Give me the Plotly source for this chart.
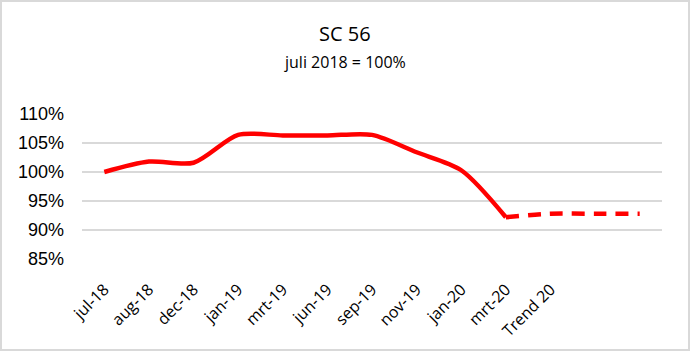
import plotly.graph_objects as go

categories = ["jul-18", "aug-18", "dec-18", "jan-19", "mrt-19", "jun-19",
              "sep-19", "nov-19", "jan-20", "mrt-20", "Trend 20", "", ""]
actual = [100.0, 101.8, 101.6, 106.4, 106.3, 106.3, 106.4, 103.4, 100.3, 92.2]
trend = [92.2, 92.8, 92.8, 92.8]
y_ticks = [85, 90, 95, 100, 105, 110]
y_tick_labels = ["85%", "90%", "95%", "100%", "105%", "110%"]

W, H = 690, 351
L, R, T, B = 82, 28, 114, 92
pw, ph = W - L - R, H - T - B

x_all = list(range(len(categories)))
x_actual = x_all[:len(actual)]
x_trend = x_all[len(actual) - 1:len(actual) - 1 + len(trend)]

fig = go.Figure()
fig.add_trace(go.Scatter(x=x_actual, y=actual, mode="lines",
                         line=dict(color="#FF0000", width=4.5, shape="spline", smoothing=0.8),
                         showlegend=False, hoverinfo="skip"))
fig.add_trace(go.Scatter(x=x_trend, y=trend, mode="lines",
                         line=dict(color="#FF0000", width=4.5, shape="spline", smoothing=0.8,
                                   dash="13px,9px"),
                         showlegend=False, hoverinfo="skip"))

def px_to_paper_x(px):
    return (px - L) / pw

def px_to_paper_y(py):
    return (H - B - py) / ph

fig.update_layout(
    width=W, height=H,
    margin=dict(l=L, r=R, t=T, b=B, autoexpand=False),
    paper_bgcolor="white", plot_bgcolor="white",
    xaxis=dict(range=[-0.5, len(categories) - 0.5], tickmode="array",
               tickvals=x_all, ticktext=categories, tickangle=-45,
               showgrid=False, zeroline=False, showline=False, ticks="",
               ticklabelstandoff=17, automargin=False,
               tickfont=dict(family="Open Sans", size=16, color="#000000")),
    yaxis=dict(range=[85, 110], tickmode="array", tickvals=y_ticks, ticktext=y_tick_labels,
               showgrid=True, gridcolor="#D9D9D9", gridwidth=1.5,
               zeroline=False, showline=False, ticks="",
               ticklabelstandoff=17, automargin=False,
               tickfont=dict(family="Liberation Sans", size=18, color="#000000")),
    annotations=[
        dict(text="SC 56", xref="paper", yref="paper",
             x=px_to_paper_x(345), y=px_to_paper_y(33), xanchor="center", yanchor="middle",
             showarrow=False, font=dict(family="Open Sans", size=20, color="#000000")),
        dict(text="juli 2018 = 100%", xref="paper", yref="paper",
             x=px_to_paper_x(345), y=px_to_paper_y(62), xanchor="center", yanchor="middle",
             showarrow=False, font=dict(family="Open Sans", size=16, color="#000000")),
    ],
    shapes=[
        dict(type="rect", xref="paper", yref="paper",
             x0=px_to_paper_x(1), x1=px_to_paper_x(W - 1),
             y0=px_to_paper_y(H - 1), y1=px_to_paper_y(1),
             line=dict(color="#D9D9D9", width=2), layer="below"),
    ],
)

fig.write_html("out.html")
